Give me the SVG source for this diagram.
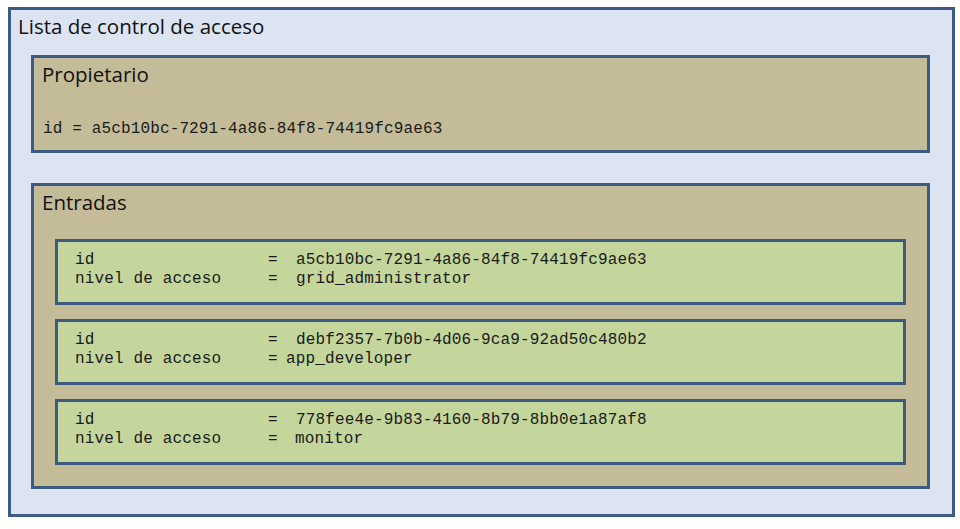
<svg xmlns="http://www.w3.org/2000/svg" width="960" height="529" viewBox="0 0 960 529">
<style>
.box{stroke:#3d5b80;stroke-width:3}
.outer{fill:#dbe4f0}
.tan{fill:#c4bc98}
.green{fill:#c4d69c}
.h{font-family:"Open Sans","Noto Sans",sans-serif;font-size:20.5px;fill:#111}
.m{font-family:"Liberation Mono","Courier New",monospace;font-size:16px;letter-spacing:0.14px;fill:#1a1a1a}
</style>
<rect width="960" height="529" fill="#ffffff"/>
<g id="acl">
<rect class="box outer" x="9.5" y="8.5" width="944" height="507"/>
<text class="h" x="18" y="34">Lista de control de acceso</text>
</g>
<g id="propietario">
<rect class="box tan" x="32.5" y="56.5" width="896" height="95"/>
<text class="h" x="42" y="82">Propietario</text>
<text class="m" x="43" y="133">id = a5cb10bc-7291-4a86-84f8-74419fc9ae63</text>
</g>
<g id="entradas">
<rect class="box tan" x="32.5" y="184.5" width="896" height="303"/>
<text class="h" x="42" y="210">Entradas</text>
</g>
<g id="entrada1">
<rect class="box green" x="56.5" y="240.5" width="848" height="63"/>
<text class="m" x="75" y="264">id</text>
<text class="m" x="268" y="264">=</text>
<text class="m" x="296" y="264">a5cb10bc-7291-4a86-84f8-74419fc9ae63</text>
<text class="m" x="75" y="283">nivel de acceso</text>
<text class="m" x="268" y="283">=</text>
<text class="m" x="296" y="283">grid_administrator</text>
</g>
<g id="entrada2">
<rect class="box green" x="56.5" y="320.5" width="848" height="63"/>
<text class="m" x="75" y="344">id</text>
<text class="m" x="268" y="344">=</text>
<text class="m" x="296" y="344">debf2357-7b0b-4d06-9ca9-92ad50c480b2</text>
<text class="m" x="75" y="363">nivel de acceso</text>
<text class="m" x="268" y="363">=</text>
<text class="m" x="286" y="363">app_developer</text>
</g>
<g id="entrada3">
<rect class="box green" x="56.5" y="400.5" width="848" height="63"/>
<text class="m" x="75" y="424">id</text>
<text class="m" x="268" y="424">=</text>
<text class="m" x="296" y="424">778fee4e-9b83-4160-8b79-8bb0e1a87af8</text>
<text class="m" x="75" y="443">nivel de acceso</text>
<text class="m" x="268" y="443">=</text>
<text class="m" x="295" y="443">monitor</text>
</g>
<g id="connectors"/>
</svg>
